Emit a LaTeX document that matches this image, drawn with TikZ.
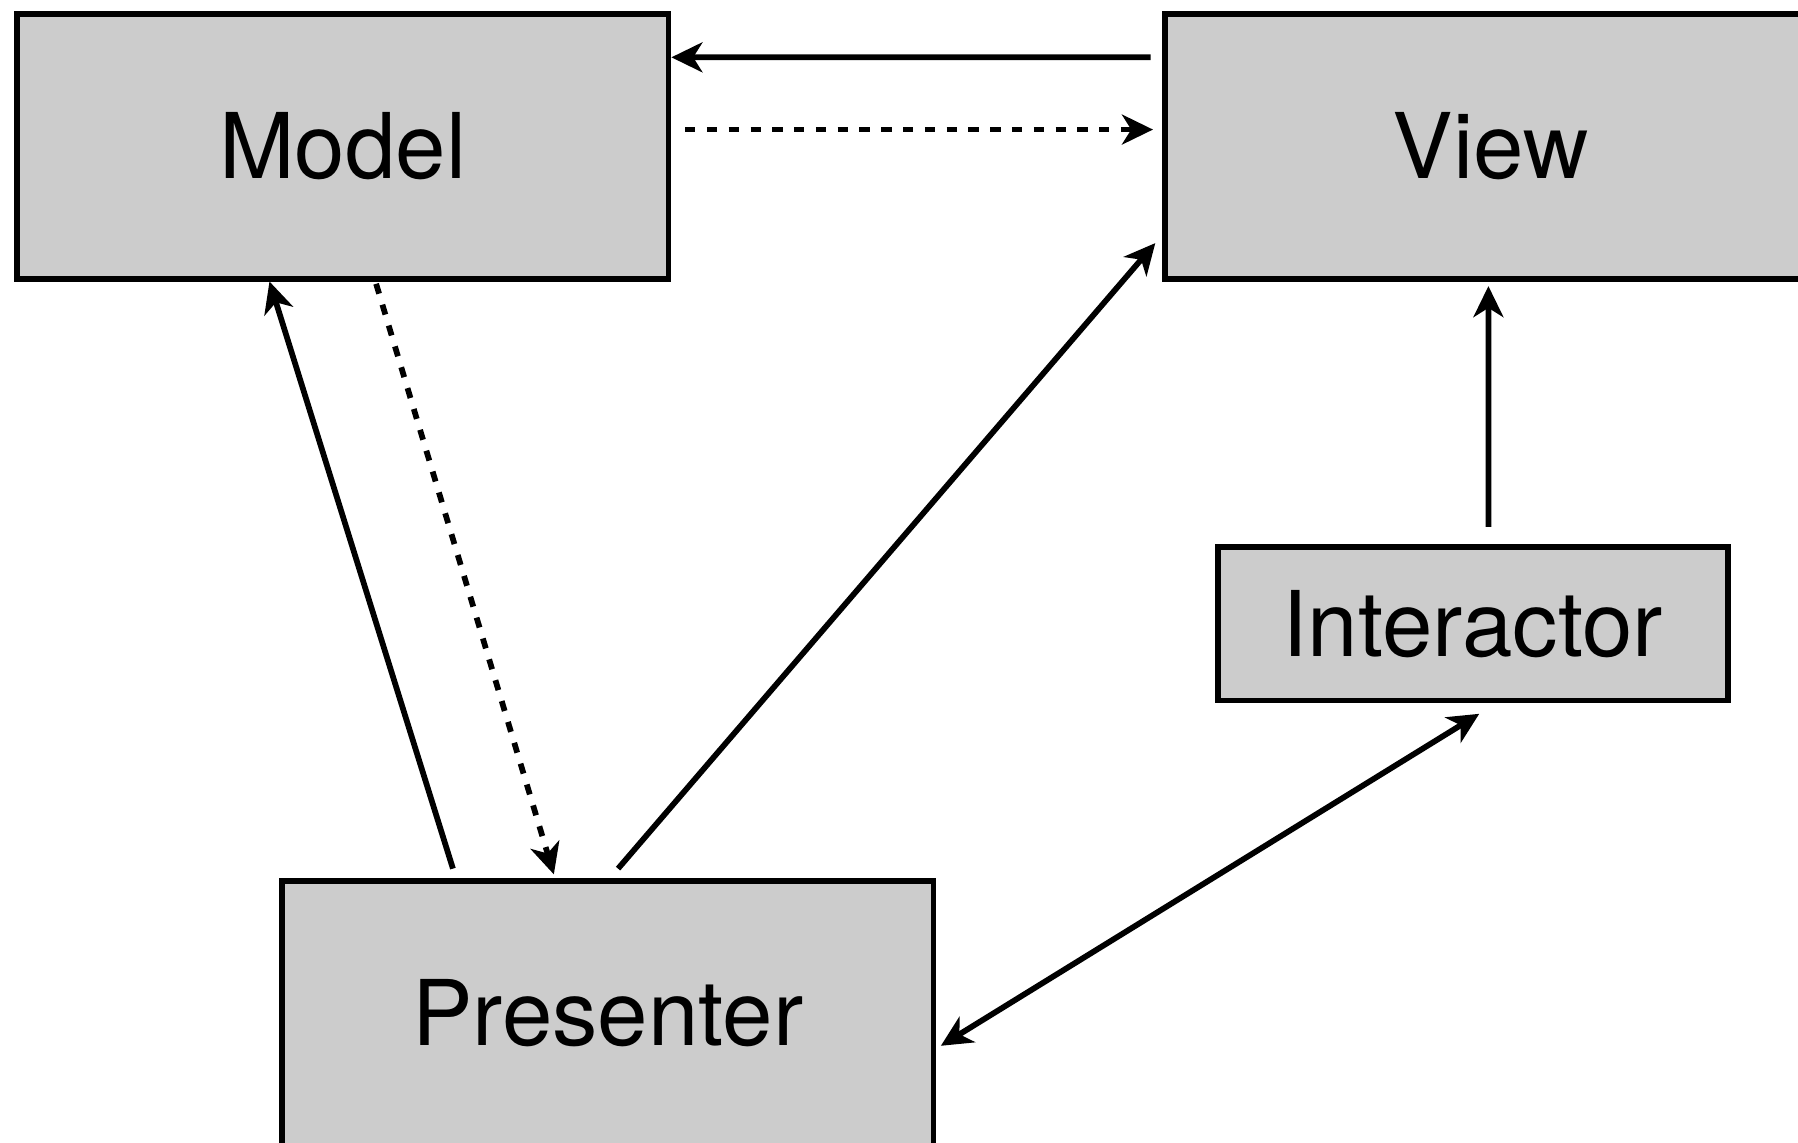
\documentclass[tikz,border=0pt]{standalone}
\usepackage{fontspec}
\setmainfont{TeX Gyre Heros}
\usepackage{tikz}
\usetikzlibrary{arrows.meta}
\tikzset{
	tip/.tip={Stealth[length=0.27cm, width=0.26cm, inset=0.08cm]},
	box/.style={draw, line width=0.05cm, fill=black!20, inner sep=0pt, font=\fontsize{22.5}{27}\selectfont},
	link/.style={line width=0.05cm, -tip},
	linkdash/.style={link, dash pattern=on 0.09cm off 0.1cm}
}

\begin{document}
\begin{tikzpicture}
			\useasboundingbox (0,0) rectangle (15.68,-9.96);
			\node[box, minimum width=5.68cm, minimum height=2.31cm] (model) at (2.99,-1.275) {Model};
			\node[box, minimum width=5.68cm, minimum height=2.31cm] (view) at (13.00,-1.275) {View};
			\node[box, minimum width=4.45cm, minimum height=1.34cm] (interactor) at (12.845,-5.44) {Interactor};
			\node[box, minimum width=5.68cm, minimum height=2.31cm] (presenter) at (5.30,-8.835) {Presenter};
			\draw[link] ([shift={(-0.1,0.775)}]view.west) -- ([yshift=0.775cm]model.east);
			\draw[linkdash] ([shift={(0.12,0.145)}]model.east) -- ([shift={(-0.08,0.145)}]view.west);
			\draw[link] ([shift={(-1.35,0.08)}]presenter.north) -- ([xshift=-0.64cm]model.south);
			\draw[linkdash] ([shift={(0.29,-0.02)}]model.south) -- ([shift={(-0.47,0.03)}]presenter.north);
			\draw[link] ([shift={(0.09,0.08)}]presenter.north) -- ([shift={(-0.06,-0.845)}]view.west);
			\draw[link] ([shift={(0.135,0.15)}]interactor.north) -- ([shift={(-0.02,-0.04)}]view.south);
			\draw[link, tip-tip] ([shift={(0.04,-0.285)}]presenter.east) -- ([shift={(0.055,-0.09)}]interactor.south);
		\end{tikzpicture}
\end{document}
